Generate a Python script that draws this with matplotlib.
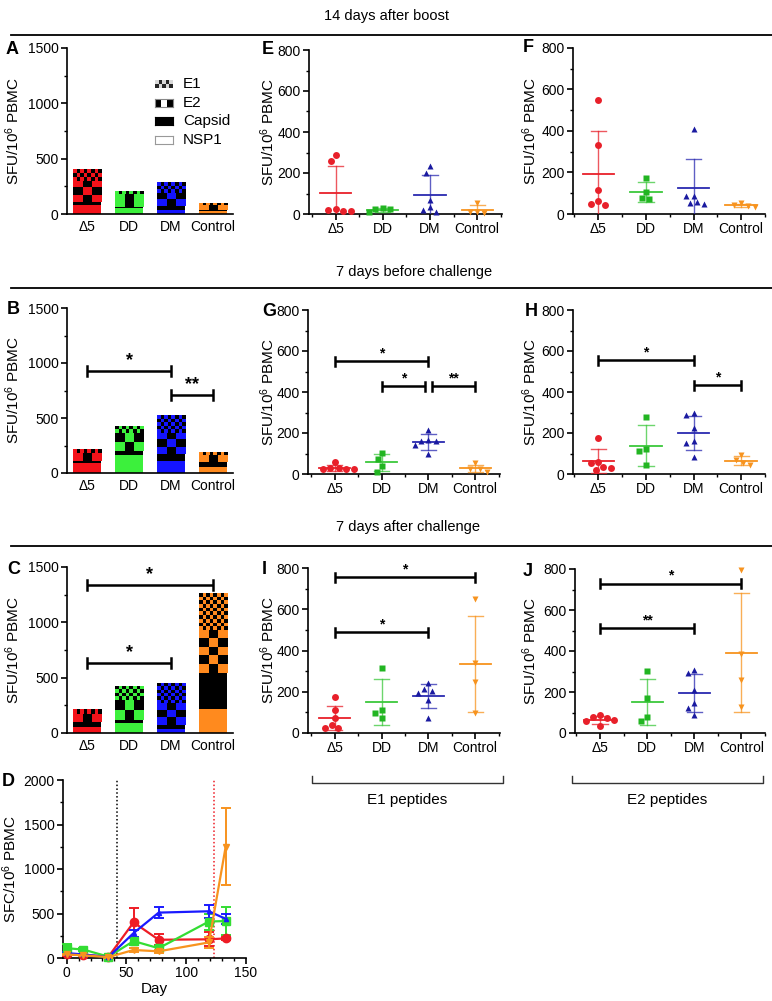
import numpy as np
import matplotlib
matplotlib.use('Agg')
import matplotlib.pyplot as plt
from matplotlib.lines import Line2D
from matplotlib.colors import to_rgba
from matplotlib.ticker import MultipleLocator

plt.rcParams['font.family'] = ['Liberation Sans', 'DejaVu Sans']
plt.rcParams['mathtext.fontset'] = 'custom'
plt.rcParams['mathtext.rm'] = 'Liberation Sans'
plt.rcParams['mathtext.it'] = 'Liberation Sans:italic'
plt.rcParams['mathtext.bf'] = 'Liberation Sans:bold'

# ---------------- DATA ----------------
groups = ['Δ5', 'DD', 'DM', 'Control']

# stacked bars (SFU/10^6 PBMC), order of groups as above
A_nsp1 = [85, 55, 40, 25]
A_capsid = [20, 10, 30, 15]
A_e2 = [195, 112, 120, 40]
A_e1 = [103, 20, 98, 15]

B_nsp1 = [90, 165, 110, 55]
B_capsid = [15, 35, 60, 45]
B_e2 = [75, 160, 195, 60]
B_e1 = [30, 57, 162, 22]

C_nsp1 = [55, 90, 40, 215]
C_capsid = [45, 30, 30, 325]
C_e2 = [75, 180, 200, 390]
C_e1 = [43, 125, 175, 330]

# significance brackets: (group i, group j, height, label)
B_sig = [(0, 2, 925, '*'), (2, 3, 710, '**')]
C_sig = [(0, 3, 1335, '*'), (0, 2, 635, '*')]

# time course (D)
days = [0, 14, 35, 56, 77, 119, 133]
D_d5 = [45, 35, 15, 400, 205, 210, 220]
D_d5_err = [20, 10, 5, 160, 60, 80, 20]
D_dd = [110, 95, 15, 190, 110, 410, 415]
D_dd_err = [50, 20, 5, 40, 30, 90, 160]
D_dm = [55, 40, 10, 280, 510, 525, 440]
D_dm_err = [15, 10, 5, 40, 60, 70, 60]
D_ctrl = [40, 30, 10, 90, 75, 175, 1250]
D_ctrl_err = [10, 10, 5, 20, 20, 60, 430]
boost_day = 42
challenge_day = 123

# individual animals
E_d5 = [286, 260, 21, 13, 16, 26]
E_dd = [27, 8, 22, 25]
E_dm = [232, 200, 70, 32, 8, 18]
E_ctrl = [55, 12, 8, 5]

F_d5 = [548, 334, 114, 61, 42, 48]
F_dd = [172, 105, 70, 75]
F_dm = [411, 88, 85, 56, 50, 53]
F_ctrl = [53, 34, 42, 37]

G_d5 = [58, 27, 22, 24, 22, 28]
G_dd = [104, 71, 39, 11]
G_dm = [215, 165, 160, 140, 100, 160]
G_ctrl = [52, 25, 12, 24]
G_sig = [(0, 2, 551, '*'), (1, 1.93, 429, '*'), (2.07, 3, 429, '**')]

H_d5 = [178, 60, 55, 32, 19, 28]
H_dd = [279, 120, 112, 44]
H_dm = [298, 287, 225, 160, 152, 84]
H_ctrl = [95, 70, 55, 42]
H_sig = [(0, 2, 556, '*'), (2, 3, 434, '*')]

I_d5 = [174, 110, 73, 40, 24, 26]
I_dd = [316, 113, 98, 74]
I_dm = [242, 203, 211, 195, 161, 73]
I_ctrl = [649, 338, 249, 98]
I_sig = [(0, 3, 756, '*'), (0, 2, 488, '*')]

J_d5 = [77, 89, 73, 65, 58, 32]
J_dd = [303, 171, 77, 58]
J_dm = [308, 292, 211, 145, 123, 89]
J_ctrl = [796, 386, 259, 129]
J_sig = [(0, 3, 727, '*'), (0, 2, 512, '**')]

# ---------------- STYLE ----------------
W, H = 772, 1001
DPI = 100
fig = plt.figure(figsize=(W / DPI, H / DPI), dpi=DPI)

bar_colors = ['#f4121a', '#3cf03c', '#1414ff', '#ff8a1e']
pt_colors = ['#e8202a', '#22b522', '#1a1aa0', '#f7931e']
line_colors = ['#e8202a', '#3cc83c', '#2a2ab0', '#f7931e']
pt_markers = ['o', 's', '^', 'v']
FS = 10
LFS = 11


def add_ax(l, t, r, b):
    return fig.add_axes([l / W, 1 - b / H, (r - l) / W, (b - t) / H])


def style(ax):
    for s in ['top', 'right']:
        ax.spines[s].set_visible(False)
    for s in ['left', 'bottom']:
        ax.spines[s].set_linewidth(1.2)
    ax.tick_params(which='major', width=1.2, length=4.5, labelsize=FS, pad=1.5)
    ax.tick_params(which='minor', width=1.0, length=2.5)


def ylabel(ax, text, x_px):
    bb = ax.get_position()
    l = bb.x0 * W
    wpx = bb.width * W
    ax.set_ylabel(text, fontsize=LFS)
    ax.yaxis.set_label_coords((x_px - l) / wpx, 0.5)


def px_scale(ax):
    bb = ax.get_position()
    xl = ax.get_xlim()
    yl = ax.get_ylim()
    return bb.width * W / (xl[1] - xl[0]), bb.height * H / (yl[1] - yl[0])


def checker(ax, x0, x1, y0, y1, cell_w, cell_h, color):
    sx, sy = px_scale(ax)
    xl, yl = ax.get_xlim(), ax.get_ylim()
    nc = max(1, int(round((x1 - x0) * sx / cell_w)))
    nr = max(1, int(round((y1 - y0) * sy / cell_h)))
    pat = np.add.outer(np.arange(nr)[::-1], np.arange(nc)) % 2
    rgba = np.zeros((nr, nc, 4))
    rgba[pat == 0] = to_rgba(color)
    rgba[pat == 1] = (0, 0, 0, 1)
    ax.imshow(rgba, extent=(x0, x1, y0, y1), origin='upper', interpolation='nearest',
              aspect='auto', zorder=3)
    ax.set_xlim(xl)
    ax.set_ylim(yl)


def sig_bar(ax, x1, x2, y, label, cap_px=5, fs=12, gap_px=1):
    sx, sy = px_scale(ax)
    cap = cap_px / sy
    ax.plot([x1, x2], [y, y], color='k', lw=1.8, solid_capstyle='butt', zorder=5, clip_on=False)
    for x in (x1, x2):
        ax.plot([x, x], [y - cap, y + cap], color='k', lw=1.8, zorder=5, clip_on=False)
    ax.text((x1 + x2) / 2, y + gap_px / sy, label, ha='center', va='bottom', fontsize=fs,
            fontweight='bold', zorder=5)


def bar_panel(ax, nsp1, capsid, e2, e1, sig):
    ax.set_xlim(-0.48, 3.48)
    ax.set_ylim(0, 1500)
    x = np.arange(4)
    w = 0.67
    bottoms = np.zeros(4)
    ax.bar(x, nsp1, w, bottom=bottoms, color=bar_colors, zorder=2)
    bottoms = bottoms + np.array(nsp1)
    ax.bar(x, capsid, w, bottom=bottoms, color='k', zorder=2)
    bottoms = bottoms + np.array(capsid)
    b3 = ax.bar(x, e2, w, bottom=bottoms, color=bar_colors, zorder=2)
    bottoms = bottoms + np.array(e2)
    b4 = ax.bar(x, e1, w, bottom=bottoms, color=bar_colors, zorder=2)
    for p, c in zip(b3.patches, bar_colors):
        checker(ax, p.get_x(), p.get_x() + p.get_width(), p.get_y(), p.get_y() + p.get_height(),
                9.3, 8.5, c)
    for p, c in zip(b4.patches, bar_colors):
        checker(ax, p.get_x(), p.get_x() + p.get_width(), p.get_y(), p.get_y() + p.get_height(),
                3.5, 3.5, c)
    style(ax)
    ax.set_xticks(x)
    ax.set_xticklabels(groups)
    ax.tick_params(axis='x', length=0, pad=4)
    ax.set_yticks([0, 500, 1000, 1500])
    ax.yaxis.set_minor_locator(MultipleLocator(250))
    for (i, j, y, lab) in sig:
        sig_bar(ax, i, j, y, lab, cap_px=5, fs=13, gap_px=2)


def swarm(ax, vals, d_px):
    sx, sy = px_scale(ax)
    ys = np.asarray(vals, float) * sy
    order = np.argsort(-np.asarray(vals))
    placed = []
    offs = np.zeros(len(vals))
    for idx in order:
        y = ys[idx]
        cands = [0.0]
        for (px, py) in placed:
            dy = abs(py - y)
            if dy < d_px:
                dx = np.sqrt(d_px ** 2 - dy ** 2)
                cands += [px - dx, px + dx]
        cands.sort(key=lambda c: (abs(c), c))
        for c in cands:
            if all((c - px) ** 2 + (y - py) ** 2 >= d_px ** 2 - 1e-6 for px, py in placed):
                offs[idx] = c
                placed.append((c, y))
                break
    return offs / sx


def scatter_panel(ax, data, xlim, sig=None):
    ax.set_xlim(*xlim)
    ax.set_ylim(0, 800)
    for i, vals in enumerate(data):
        vals = np.asarray(vals, float)
        offs = swarm(ax, vals, 7.5)
        ax.plot(i + offs, vals, ls='none', marker=pt_markers[i], color=pt_colors[i],
                ms=5, mec='none', zorder=4, clip_on=False)
        m = vals.mean()
        s = vals.std(ddof=1)
        lc = line_colors[i]
        ax.plot([i - 0.33, i + 0.33], [m, m], color=lc, lw=1.3, zorder=3)
        ax.plot([i, i], [max(m - s, 0), m + s], color=lc, lw=1.0, alpha=0.75, zorder=3)
        ax.plot([i - 0.16, i + 0.16], [m + s, m + s], color=lc, lw=1.0, alpha=0.75, zorder=3)
        if m - s > 0:
            ax.plot([i - 0.16, i + 0.16], [m - s, m - s], color=lc, lw=1.0, alpha=0.75, zorder=3)
    style(ax)
    ax.set_xticks(range(4))
    ax.set_xticklabels(groups)
    ax.xaxis.set_minor_locator(MultipleLocator(0.5))
    ax.tick_params(axis='x', which='minor', length=2.5)
    ax.set_yticks([0, 200, 400, 600, 800])
    ax.yaxis.set_minor_locator(MultipleLocator(100))
    if sig:
        for (i, j, y, lab) in sig:
            sig_bar(ax, i, j, y, lab, cap_px=4.5, fs=10, gap_px=1)


YL = r'SFU/10$^6$ PBMC'

# ---- A, B, C ----
axA = add_ax(67, 48, 233, 214)
bar_panel(axA, A_nsp1, A_capsid, A_e2, A_e1, [])
ylabel(axA, YL, 22)
axB = add_ax(67, 308, 233, 473)
bar_panel(axB, B_nsp1, B_capsid, B_e2, B_e1, B_sig)
ylabel(axB, YL, 22)
axC = add_ax(67, 567, 233, 733)
bar_panel(axC, C_nsp1, C_capsid, C_e2, C_e1, C_sig)
ylabel(axC, YL, 22)

# legend in A (manual swatches)
leg_labels = ['E1', 'E2', 'Capsid', 'NSP1']
leg_rows = [84, 103, 121, 140]
for lab, yc in zip(leg_labels, leg_rows):
    sw = add_ax(155, yc - 4, 173, yc + 4)
    sw.set_xticks([])
    sw.set_yticks([])
    if lab == 'E1':
        pat = np.add.outer(np.arange(2), np.arange(5)) % 2
        sw.imshow(0.15 + 0.7 * (1 - pat), cmap='gray', vmin=0, vmax=1, aspect='auto',
                  interpolation='nearest')
        for s in sw.spines.values():
            s.set_visible(False)
    elif lab == 'E2':
        pat = np.array([[0, 1, 0], [0, 1, 0]])
        sw.imshow(pat, cmap='gray', vmin=0, vmax=1, aspect='auto', interpolation='nearest')
        for s in sw.spines.values():
            s.set_color('#888888')
    elif lab == 'Capsid':
        sw.set_facecolor('k')
    else:
        sw.set_facecolor('white')
        for s in sw.spines.values():
            s.set_color('#999999')
            s.set_linewidth(0.8)
    fig.text(183 / W, 1 - yc / H, lab, ha='left', va='center', fontsize=LFS)

# ---- D ----
axD = add_ax(63, 780, 246, 958)
axD.set_xlim(-3, 150)
axD.set_ylim(0, 2000)
series = [(D_dm, D_dm_err, 2, 3), (D_ctrl, D_ctrl_err, 3, 4.5), (D_dd, D_dd_err, 1, 5.5),
          (D_d5, D_d5_err, 0, 6)]
dcol = ['#ee1c25', '#33dd33', '#1a1aff', '#f7931e']
for vals, err, k, ms in series:
    axD.errorbar(days, vals, yerr=err, color=dcol[k], marker=pt_markers[k], ms=ms,
                 lw=1.6, capsize=3.5, capthick=1.4, elinewidth=1.4, zorder=3 + k * 0.1,
                 clip_on=False)
axD.axvline(boost_day, color='k', ls=(0, (1, 1.5)), lw=1.1, zorder=1)
axD.axvline(challenge_day, color='#ee1c25', ls=(0, (1, 1.5)), lw=1.1, zorder=1)
style(axD)
axD.set_xticks([0, 50, 100, 150])
axD.xaxis.set_minor_locator(MultipleLocator(10))
axD.set_yticks([0, 500, 1000, 1500, 2000])
axD.yaxis.set_minor_locator(MultipleLocator(250))
axD.set_xlabel('Day', fontsize=LFS, labelpad=1)
ylabel(axD, r'SFC/10$^6$ PBMC', 19)

# ---- E-J ----
xl_mid = (-0.57, 3.53)
xl_right = (-0.53, 3.5)
axE = add_ax(309, 50, 502, 214)
scatter_panel(axE, [E_d5, E_dd, E_dm, E_ctrl], xl_mid)
ylabel(axE, YL, 277)
axF = add_ax(573, 48, 765, 214)
scatter_panel(axF, [F_d5, F_dd, F_dm, F_ctrl], xl_right)
ylabel(axF, YL, 539)
axG = add_ax(308, 310, 500, 474)
scatter_panel(axG, [G_d5, G_dd, G_dm, G_ctrl], xl_mid, G_sig)
ylabel(axG, YL, 277)
axH = add_ax(573, 310, 765, 474)
scatter_panel(axH, [H_d5, H_dd, H_dm, H_ctrl], xl_right, H_sig)
ylabel(axH, YL, 539)
axI = add_ax(308, 568, 500, 733)
scatter_panel(axI, [I_d5, I_dd, I_dm, I_ctrl], xl_mid, I_sig)
ylabel(axI, YL, 277)
axJ = add_ax(575, 569, 765, 733)
scatter_panel(axJ, [J_d5, J_dd, J_dm, J_ctrl], xl_right, J_sig)
ylabel(axJ, YL, 539)

# ---- headers & separators ----
headers = [('14 days after boost', 387, 16, 35),
           ('7 days before challenge', 414, 272, 288),
           ('7 days after challenge', 408, 527, 546)]
for txt, xc, yt, yl_ in headers:
    fig.text(xc / W, 1 - yt / H, txt, ha='center', va='center', fontsize=10.5)
    fig.add_artist(Line2D([11 / W, 1.0], [1 - yl_ / H, 1 - yl_ / H], color='k', lw=1.3))

# ---- peptide brackets ----
for txt, x0, x1 in [('E1 peptides', 312, 503), ('E2 peptides', 572, 763)]:
    yb, yt = 783, 776
    fig.add_artist(Line2D([x0 / W, x0 / W, x1 / W, x1 / W],
                          [1 - yt / H, 1 - yb / H, 1 - yb / H, 1 - yt / H], color='#333333', lw=1.0))
    fig.text((x0 + x1) / 2 / W, 1 - 800 / H, txt, ha='center', va='center', fontsize=LFS)

# ---- panel letters ----
letters = [('A', 6, 50), ('B', 7, 310), ('C', 7, 570), ('D', 2, 782),
           ('E', 262, 49), ('F', 523, 48), ('G', 262, 312), ('H', 525, 312),
           ('I', 262, 570), ('J', 523, 572)]
for L, x, y in letters:
    fig.text(x / W, 1 - y / H, L, ha='left', va='center', fontsize=13, fontweight='bold')

fig.savefig('out.png', dpi=DPI)
